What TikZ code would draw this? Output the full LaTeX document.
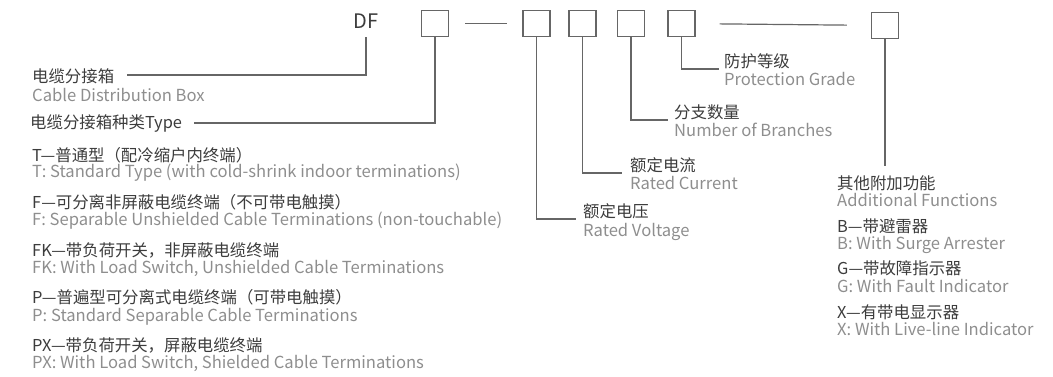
\documentclass[tikz,border=0pt]{standalone}
\usepackage{fontspec}
\setmainfont{Noto Sans CJK SC}
\definecolor{cjk}{HTML}{3C3C3C}
\definecolor{eng}{HTML}{8E8E8E}
\definecolor{ln}{HTML}{666666}
\begin{document}
\begin{tikzpicture}[x=1pt,y=-1pt,
  box/.style={draw=ln, line width=1.2pt, minimum width=27pt, minimum height=26pt, inner sep=0pt},
  cn/.style={anchor=base west, inner sep=0pt, text=cjk, font=\fontsize{16.4}{19}\selectfont},
  en/.style={anchor=base west, inner sep=0pt, text=eng, font=\fontsize{16.6}{19}\selectfont},
  lead/.style={draw=ln, line width=1.2pt}]
\useasboundingbox (0,0) rectangle (1053,376);
% header
\node[anchor=base, inner sep=0pt, text=cjk, font=\fontsize{20}{24}\selectfont] (df) at (366,28) {DF};
\node[box] (b1) at (435,23.5) {};
\node[box] (b2) at (536.5,23.5) {};
\node[box] (b3) at (582.5,23.5) {};
\node[box] (b4) at (631,23.5) {};
\node[box] (b5) at (681.5,23.5) {};
\node[box] (b6) at (885,25.5) {};
\draw[lead, shorten <=16pt, shorten >=15pt] (b1) -- (b2);
\draw[lead, shorten <=24pt, shorten >=24pt] (b5) -- (b6);
% leader end points
\coordinate (c0) at (127,75);
\coordinate (c1) at (194,123);
\coordinate (c2) at (576,219);
\coordinate (c3) at (622,173);
\coordinate (c4) at (668,120);
\coordinate (c5) at (719,69);
\coordinate (c6) at (885,166);
\draw[lead, shorten <=9pt] (df.south) |- (c0);
\draw[lead] (b1.south) |- (c1);
\draw[lead] (b2.south) |- (c2);
\draw[lead] (b3.south) |- (c3);
\draw[lead] (b4.south) |- (c4);
\draw[lead] (b5.south) |- (c5);
\draw[lead] (b6.south) -- (c6);
% left labels
\node[cn] (l0c) at (32,82) {电缆分接箱};
\node[en] (l0e) at (32,101) {Cable Distribution Box};
\node[cn] (l1c) at (30,128) {电缆分接箱种类Type};
\node[cn] (tc) at (32,161) {T—普通型（配冷缩户内终端）};
\node[en] (te) at (32,177) {T: Standard Type (with cold-shrink indoor terminations)};
\node[cn] (fc) at (32,208) {F—可分离非屏蔽电缆终端（不可带电触摸）};
\node[en] (fe) at (32,225) {F: Separable Unshielded Cable Terminations (non-touchable)};
\node[cn] (fkc) at (32,256) {FK—带负荷开关，非屏蔽电缆终端};
\node[en] (fke) at (32,273) {FK: With Load Switch, Unshielded Cable Terminations};
\node[cn] (pc) at (32,303) {P—普遍型可分离式电缆终端（可带电触摸）};
\node[en] (pe) at (32,321) {P: Standard Separable Cable Terminations};
\node[cn] (pxc) at (32,351) {PX—带负荷开关，屏蔽电缆终端};
\node[en] (pxe) at (32,368) {PX: With Load Switch, Shielded Cable Terminations};
% middle labels
\node[cn] (vc) at (583,217) {额定电压};
\node[en] (ve) at (583,236) {Rated Voltage};
\node[cn] (ic) at (630,171) {额定电流};
\node[en] (ie) at (630,189) {Rated Current};
\node[cn] (nc) at (674,118) {分支数量};
\node[en] (ne) at (674,136) {Number of Branches};
\node[cn] (gc) at (724,67) {防护等级};
\node[en] (ge) at (724,85) {Protection Grade};
% right labels
\node[cn] (ac) at (837,189) {其他附加功能};
\node[en] (ae) at (837,206) {Additional Functions};
\node[cn] (bc) at (837,232) {B—带避雷器};
\node[en] (be) at (837,249) {B: With Surge Arrester};
\node[cn] (gfc) at (837,274) {G—带故障指示器};
\node[en] (gfe) at (837,292) {G: With Fault Indicator};
\node[cn] (xc) at (837,318) {X—有带电显示器};
\node[en] (xe) at (837,335) {X: With Live-line Indicator};
\end{tikzpicture}
\end{document}
